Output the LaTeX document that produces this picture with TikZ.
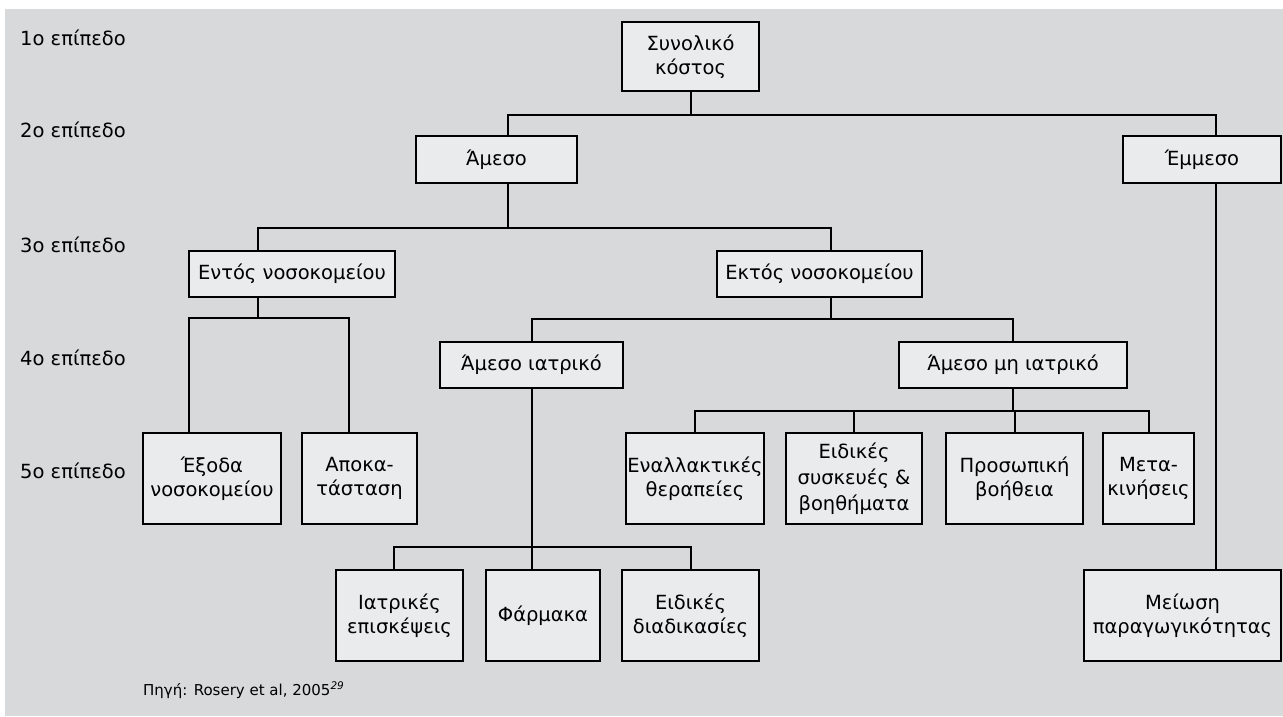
\documentclass[tikz,border=0pt]{standalone}
\usepackage{fontspec}
\setmainfont{DejaVu Sans}
\definecolor{bgc}{HTML}{D8D9DB}
\definecolor{boxc}{HTML}{EAEBED}
\tikzset{
  box/.style={draw=black, line width=1.8pt, fill=boxc, align=center, inner sep=0pt,
    font=\fontsize{19.5}{24.5}\selectfont},
  conn/.style={line width=2pt, draw=black},
  lvl/.style={anchor=base west, inner sep=0pt, font=\fontsize{19.5}{24}\selectfont},
}
\begin{document}
\begin{tikzpicture}[x=1pt,y=-1pt]
\useasboundingbox (0,0) rectangle (1283,716);
\fill[bgc] (5,9) rectangle (1283,716);

% level labels
\node[lvl] (l1) at (20,45) {1ο επίπεδο};
\node[lvl] (l2) at (20,137) {2ο επίπεδο};
\node[lvl] (l3) at (20,252) {3ο επίπεδο};
\node[lvl] (l4) at (20,365) {4ο επίπεδο};
\node[lvl] (l5) at (20,478) {5ο επίπεδο};

% boxes
\node[box, minimum width=137pt, minimum height=69pt] (tot) at (690.5,56.5) {Συνολικό\\κόστος};
\node[box, minimum width=161pt, minimum height=47pt] (amesos) at (496.5,159.5) {Άμεσο};
\node[box, minimum width=158pt, minimum height=47pt] (emmesos) at (1202,159.5) {Έμμεσο};
\node[box, minimum width=206pt, minimum height=46pt] (entos) at (292,274) {Εντός νοσοκομείου};
\node[box, minimum width=205pt, minimum height=46pt] (ektos) at (819.5,274) {Εκτός νοσοκομείου};
\node[box, minimum width=183pt, minimum height=46pt] (amiatr) at (531.5,365) {Άμεσο ιατρικό};
\node[box, minimum width=228pt, minimum height=46pt] (ammiatr) at (1013,365) {Άμεσο μη ιατρικό};

\node[box, minimum width=138pt, minimum height=91pt] (exoda) at (212,478.5) {Έξοδα\\νοσοκομείου};
\node[box, minimum width=115pt, minimum height=91pt] (apok) at (359.5,478.5) {Αποκα-\\τάσταση};
\node[box, minimum width=138pt, minimum height=91pt] (enal) at (695,478.5) {Εναλλακτικές\\θεραπείες};
\node[box, minimum width=136pt, minimum height=91pt, font=\fontsize{19.5}{26}\selectfont] (eidsysk) at (854,478.5) {Ειδικές\\συσκευές \&\\βοηθήματα};
\node[box, minimum width=137pt, minimum height=91pt] (prosop) at (1014.5,478.5) {Προσωπική\\βοήθεια};
\node[box, minimum width=91pt, minimum height=91pt] (metak) at (1148.5,478.5) {Μετα-\\κινήσεις};

\node[box, minimum width=127pt, minimum height=91pt] (iatrep) at (399.5,615.5) {Ιατρικές\\επισκέψεις};
\node[box, minimum width=114pt, minimum height=91pt] (farm) at (543,615.5) {Φάρμακα};
\node[box, minimum width=137pt, minimum height=91pt] (eiddiad) at (690.5,615.5) {Ειδικές\\διαδικασίες};
\node[box, minimum width=197pt, minimum height=91pt] (meiosi) at (1182.5,615.5) {Μείωση\\παραγωγικότητας};

% source
\node[anchor=base west, inner sep=0pt, font=\fontsize{15}{18}\selectfont] (src) at (143,695) {Πηγή: Rosery et al, 2005\textsuperscript{\itshape 29}};

% bus levels
\coordinate (y1) at (0,115);
\coordinate (y2) at (0,228);
\coordinate (y3) at (0,318);
\coordinate (y3b) at (0,319);
\coordinate (y4) at (0,411);
\coordinate (y5) at (0,547);

% connectors
\draw[conn] (tot.south) -- (tot.south |- y1);
\draw[conn] ([xshift=11.5pt]amesos.north) |- ([xshift=14pt]emmesos.north |- y1) -- ([xshift=14pt]emmesos.north);

\draw[conn] ([xshift=11.5pt]amesos.south) -- ([xshift=11.5pt]amesos.south |- y2);
\draw[conn] ([xshift=-34pt]entos.north) |- ([xshift=11.5pt]ektos.north |- y2) -- ([xshift=11.5pt]ektos.north);

\draw[conn] ([xshift=-34pt]entos.south) -- ([xshift=-34pt]entos.south |- y3);
\draw[conn] ([xshift=-23pt]exoda.north) |- ([xshift=-10.5pt]apok.north |- y3) -- ([xshift=-10.5pt]apok.north);

\draw[conn] ([xshift=11.5pt]ektos.south) -- ([xshift=11.5pt]ektos.south |- y3b);
\draw[conn] (amiatr.north) |- (ammiatr.north |- y3b) -- (ammiatr.north);

\draw[conn] (amiatr.south) -- (amiatr.south |- farm.north);
\draw[conn] ([xshift=-5.5pt]iatrep.north) |- (eiddiad.north |- y5) -- (eiddiad.north);

\draw[conn] (ammiatr.south) -- (ammiatr.south |- y4);
\draw[conn] (enal.north) |- (metak.north |- y4) -- (metak.north);
\draw[conn] (eidsysk.north) -- (eidsysk.north |- y4);
\draw[conn] (prosop.north) -- (prosop.north |- y4);

\draw[conn] ([xshift=14pt]emmesos.south) -- ([xshift=14pt]emmesos.south |- meiosi.north);
\end{tikzpicture}
\end{document}
